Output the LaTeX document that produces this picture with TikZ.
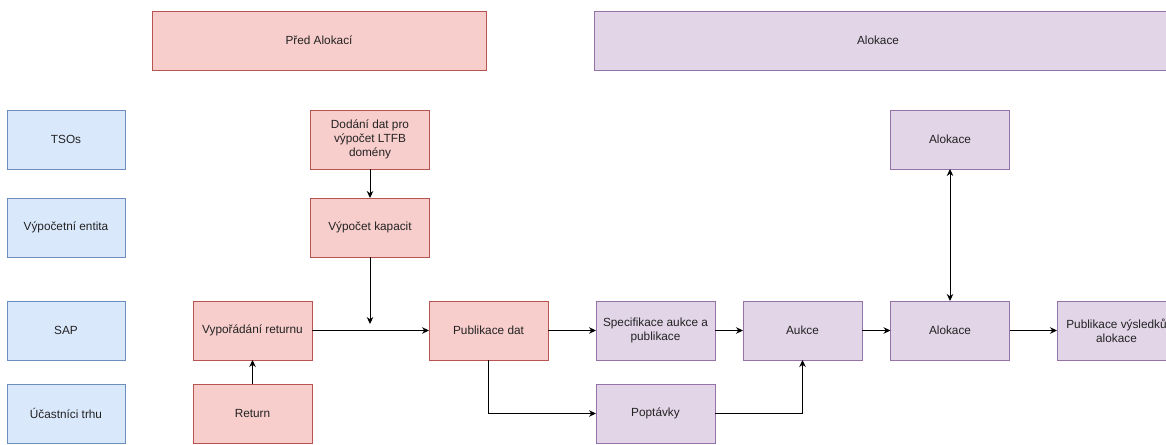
\documentclass[tikz,border=0pt]{standalone}
\usepackage{fontspec}
\setmainfont{Liberation Sans}
\usetikzlibrary{arrows.meta}
\definecolor{pinkfill}{HTML}{F8CECC}
\definecolor{pinkline}{HTML}{B85450}
\definecolor{purpfill}{HTML}{E1D5E7}
\definecolor{purpline}{HTML}{9673A6}
\definecolor{bluefill}{HTML}{DAE8FC}
\definecolor{blueline}{HTML}{6C8EBF}
\definecolor{txt}{HTML}{222222}
\tikzset{
  box/.style={rectangle, minimum width=119pt, minimum height=59pt, inner sep=2pt, outer sep=0pt,
    line width=0.9pt, align=center, text=txt,
    font=\fontsize{11.8}{14}\selectfont},
  pinkbox/.style={box, fill=pinkfill, draw=pinkline},
  purpbox/.style={box, fill=purpfill, draw=purpline},
  bluebox/.style={box, fill=bluefill, draw=blueline, minimum width=118pt},
  conn/.style={line width=0.9pt, -{Stealth[length=7pt,width=6.5pt]}},
  dconn/.style={line width=0.9pt, {Stealth[length=7pt,width=6.5pt]}-{Stealth[length=7pt,width=6.5pt]}}
}
\begin{document}
\begin{tikzpicture}[x=1pt,y=-1pt]
\useasboundingbox (0,0) rectangle (1166,444);
\fill[white] (0,0) rectangle (1166,444);
\clip (0,0) rectangle (1166,444);

% header boxes
\node[pinkbox, minimum width=334pt] (hpred) at (319,40.5) {Před Alokací};
\node[purpbox, minimum width=586pt] (halok) at (887,40.5) {};
\node[text=txt, font=\fontsize{11.8}{14}\selectfont] (halokt) at (878,40.5) {Alokace};

% lane labels
\node[bluebox] (tso) at (66,139.5) {TSOs};
\node[bluebox] (ve) at (66,227.5) {Výpočetní entita};
\node[bluebox] (sap) at (66,330.5) {SAP};
\node[bluebox] (ut) at (66,413.5) {Účastníci trhu};

% process boxes
\node[pinkbox] (dod) at (370,139.5) {Dodání dat pro\\výpočet LTFB\\domény};
\node[pinkbox] (vyp) at (370,227.5) {Výpočet kapacit};
\node[pinkbox] (vypo) at (252.5,330.5) {Vypořádání returnu};
\node[pinkbox] (ret) at (252.5,413.5) {Return};
\node[pinkbox] (pub) at (488.5,330.5) {Publikace dat};
\node[purpbox] (spec) at (655.5,330.5) {Specifikace aukce a\\publikace};
\node[purpbox] (popt) at (655.5,413.5) {Poptávky};
\node[purpbox] (auk) at (802.5,330.5) {Aukce};
\node[purpbox] (alok) at (950,330.5) {Alokace};
\node[purpbox] (aloktop) at (950,139.5) {Alokace};
\node[purpbox] (pubv) at (1116.5,330.5) {Publikace výsledků\\alokace};

\coordinate (vypend) at (370,324);

% connectors
\draw[conn] (dod) -- (vyp);
\draw[conn] (vyp) -- (vypend);
\draw[conn] (ret) -- (vypo);
\draw[conn] (vypo) -- (pub);
\draw[conn] (pub) -- (spec);
\draw[conn] (pub.south) |- (popt.west);
\draw[conn] (spec) -- (auk);
\draw[conn] (popt.east) -| (auk.south);
\draw[conn] (auk) -- (alok);
\draw[dconn] (alok) -- (aloktop);
\draw[conn] (alok) -- (pubv);
\end{tikzpicture}
\end{document}
